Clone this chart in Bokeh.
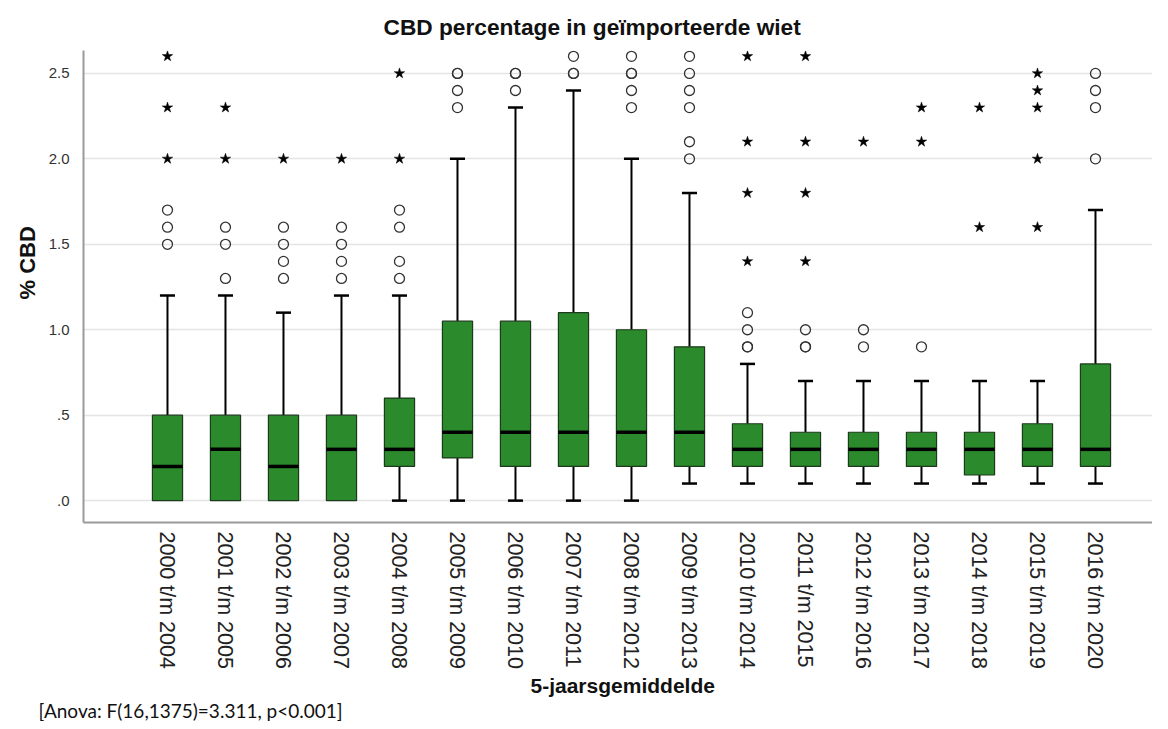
import math
from bokeh.plotting import figure
from bokeh.models import (ColumnDataSource, Range1d, FixedTicker, Title)
from bokeh.embed import file_html
from bokeh.resources import INLINE

# ---------------- data ----------------
periods = ["2000 t/m 2004", "2001 t/m 2005", "2002 t/m 2006", "2003 t/m 2007",
           "2004 t/m 2008", "2005 t/m 2009", "2006 t/m 2010", "2007 t/m 2011",
           "2008 t/m 2012", "2009 t/m 2013", "2010 t/m 2014", "2011 t/m 2015",
           "2012 t/m 2016", "2013 t/m 2017", "2014 t/m 2018", "2015 t/m 2019",
           "2016 t/m 2020"]
lower_whisker = [0.0, 0.0, 0.0, 0.0, 0.0, 0.0, 0.0, 0.0, 0.0, 0.1, 0.1, 0.1, 0.1, 0.1, 0.1, 0.1, 0.1]
q1 =            [0.0, 0.0, 0.0, 0.0, 0.2, 0.25, 0.2, 0.2, 0.2, 0.2, 0.2, 0.2, 0.2, 0.2, 0.15, 0.2, 0.2]
median =        [0.2, 0.3, 0.2, 0.3, 0.3, 0.4, 0.4, 0.4, 0.4, 0.4, 0.3, 0.3, 0.3, 0.3, 0.3, 0.3, 0.3]
q3 =            [0.5, 0.5, 0.5, 0.5, 0.6, 1.05, 1.05, 1.1, 1.0, 0.9, 0.45, 0.4, 0.4, 0.4, 0.4, 0.45, 0.8]
upper_whisker = [1.2, 1.2, 1.1, 1.2, 1.2, 2.0, 2.3, 2.4, 2.0, 1.8, 0.8, 0.7, 0.7, 0.7, 0.7, 0.7, 1.7]
# mild outliers (circles) and extreme outliers (stars)
circles = [
    [1.5, 1.6, 1.7],
    [1.3, 1.5, 1.6],
    [1.3, 1.4, 1.5, 1.6],
    [1.3, 1.4, 1.5, 1.6],
    [1.3, 1.4, 1.6, 1.7],
    [2.3, 2.4, 2.5, 2.5],
    [2.4, 2.5, 2.5],
    [2.5, 2.5, 2.6],
    [2.3, 2.4, 2.5, 2.5, 2.6],
    [2.0, 2.1, 2.3, 2.4, 2.5, 2.6],
    [0.9, 0.9, 1.0, 1.1],
    [0.9, 0.9, 1.0],
    [0.9, 1.0],
    [0.9],
    [],
    [],
    [2.0, 2.3, 2.4, 2.5],
]
stars = [
    [2.0, 2.3, 2.6],
    [2.0, 2.3],
    [2.0],
    [2.0],
    [2.0, 2.5],
    [],
    [],
    [],
    [],
    [],
    [1.4, 1.8, 2.1, 2.6],
    [1.4, 1.8, 2.1, 2.6],
    [2.1],
    [2.1, 2.3],
    [1.6, 2.3],
    [1.6, 2.0, 2.3, 2.4, 2.5],
    [],
]
y_ticks = [0.0, 0.5, 1.0, 1.5, 2.0, 2.5]
y_tick_labels = [".0", ".5", "1.0", "1.5", "2.0", "2.5"]

title_text = "CBD percentage in geïmporteerde wiet"
x_label = "5-jaarsgemiddelde"
y_label = "% CBD"
note_text = "[Anova: F(16,1375)=3.311, p<0.001]"

# ---------------- styles ----------------
BOX_W = 0.52
CAP_W = 0.26
GREEN = "#2b8a2b"
FONT = "Liberation Sans"

xs = list(range(len(periods)))

p = figure(width=1152, height=721, output_backend="svg", toolbar_location=None,
           x_range=Range1d(-1.448, 16.983), y_range=Range1d(-0.128, 2.634),
           min_border_left=83, min_border_right=0, min_border_top=50,
           min_border_bottom=198)
p.outline_line_color = None
p.background_fill_color = "white"
p.border_fill_color = "white"

p.title = Title(text=title_text, align="left", text_font=FONT,
                text_font_size="22.7px", text_font_style="bold",
                text_color="#111111", standoff=22, offset=300)

box_src = ColumnDataSource(dict(x=xs, q1=q1, q3=q3, med=median,
                                lo=lower_whisker, hi=upper_whisker))

# whiskers
p.segment(x0="x", y0="q3", x1="x", y1="hi", source=box_src, line_color="black", line_width=2)
p.segment(x0="x", y0="lo", x1="x", y1="q1", source=box_src, line_color="black", line_width=2)
# caps
cap_src_hi = ColumnDataSource(dict(x0=[x - CAP_W / 2 for x in xs], x1=[x + CAP_W / 2 for x in xs], y=upper_whisker))
p.segment(x0="x0", y0="y", x1="x1", y1="y", source=cap_src_hi, line_color="black", line_width=2.5)
lo_idx = [i for i in xs if lower_whisker[i] < q1[i]]
cap_src_lo = ColumnDataSource(dict(x0=[xs[i] - CAP_W / 2 for i in lo_idx],
                                   x1=[xs[i] + CAP_W / 2 for i in lo_idx],
                                   y=[lower_whisker[i] for i in lo_idx]))
p.segment(x0="x0", y0="y", x1="x1", y1="y", source=cap_src_lo, line_color="black", line_width=2.5)

# boxes
p.vbar(x="x", top="q3", bottom="q1", width=BOX_W, source=box_src,
       fill_color=GREEN, line_color="#1e3a1e", line_width=1.2)
# medians
med_src = ColumnDataSource(dict(x0=[x - BOX_W / 2 for x in xs], x1=[x + BOX_W / 2 for x in xs], y=median))
p.segment(x0="x0", y0="y", x1="x1", y1="y", source=med_src, line_color="black", line_width=3.5)

# outliers
cx, cy = [], []
for i, vals in enumerate(circles):
    for v in vals:
        cx.append(xs[i]); cy.append(v)
sx, sy = [], []
for i, vals in enumerate(stars):
    for v in vals:
        sx.append(xs[i]); sy.append(v)
p.scatter(cx, cy, marker="circle", size=10, fill_color=None, line_color="#333333", line_width=1.3)
p.scatter(sx, sy, marker="star", size=11, fill_color="black", line_color="black", line_width=0.5)

# x axis
p.xaxis.ticker = FixedTicker(ticks=xs)
p.xaxis.major_label_overrides = {x: lab for x, lab in zip(xs, periods)}
p.xaxis.major_label_orientation = -math.pi / 2
p.xaxis.major_label_text_font = FONT
p.xaxis.major_label_text_font_size = "21.5px"
p.xaxis.major_label_text_color = "#222222"
p.xaxis.major_label_standoff = 3
p.xaxis.major_tick_line_color = None
p.xaxis.minor_tick_line_color = None
p.xaxis.axis_line_color = "#9a9a9a"
p.xaxis.axis_line_width = 2

# x-axis title (own panel so it can sit right of centre like the original)
p.add_layout(Title(text=x_label, align="left", offset=447, standoff=0,
                   text_font=FONT, text_font_size="21px", text_font_style="bold",
                   text_color="#111111"), "below")

# y axis
p.yaxis.ticker = FixedTicker(ticks=y_ticks)
p.yaxis.major_label_overrides = {t: lab for t, lab in zip(y_ticks, y_tick_labels)}
p.yaxis.major_label_text_font = FONT
p.yaxis.major_label_text_font_size = "15px"
p.yaxis.major_label_text_color = "#333333"
p.yaxis.major_label_standoff = 8
p.yaxis.major_tick_line_color = None
p.yaxis.minor_tick_line_color = None
p.yaxis.axis_line_color = "#9a9a9a"
p.yaxis.axis_line_width = 2

p.add_layout(Title(text=y_label, align="left", offset=223, standoff=12,
                   text_font=FONT, text_font_size="22px", text_font_style="bold",
                   text_color="#111111"), "left")

p.xgrid.grid_line_color = None
p.ygrid.ticker = FixedTicker(ticks=y_ticks)
p.ygrid.grid_line_color = "#e4e4e4"
p.ygrid.grid_line_width = 1.5

# statistics note, bottom left
p.add_layout(Title(text=note_text, align="left", offset=-45, standoff=0,
                   text_font="Lato", text_font_size="19px",
                   text_font_style="normal", text_color="#111111"), "below")

open("out.html", "w").write(file_html(p, INLINE))
